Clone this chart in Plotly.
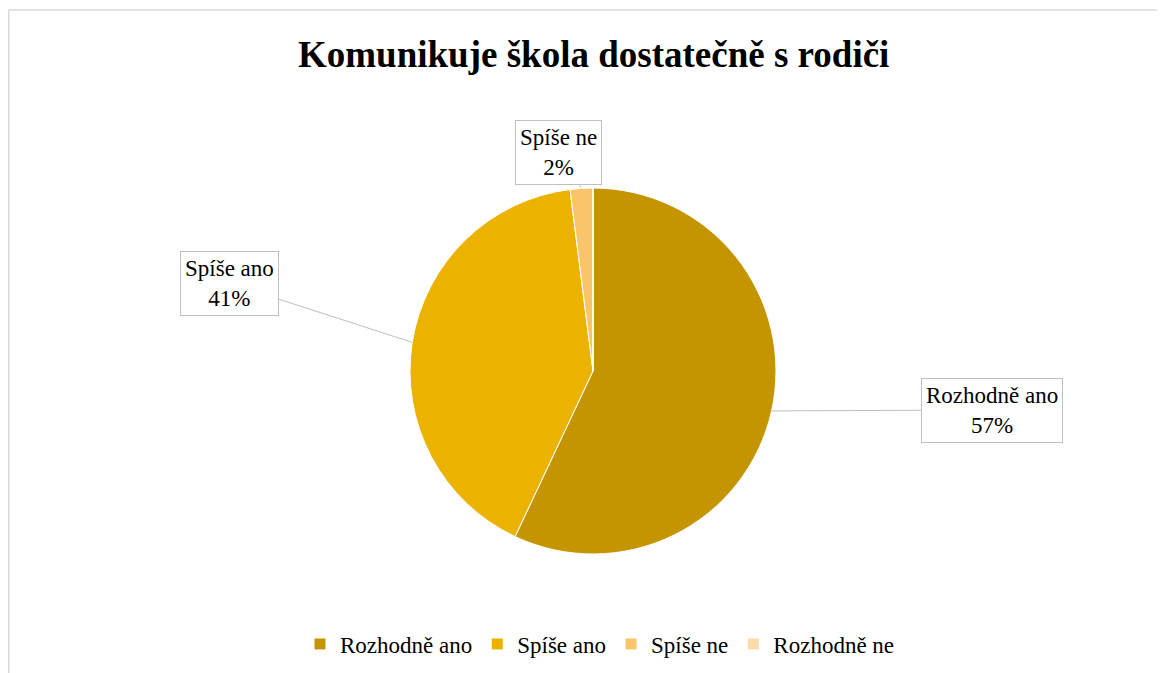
import math
import plotly.graph_objects as go

# ---- data ----
categories = ["Rozhodně ano", "Spíše ano", "Spíše ne", "Rozhodně ne"]
values = [57, 41, 2, 0]
colors = ["#C59500", "#EBB200", "#FAC56A", "#FDDBA8"]
title_text = "Komunikuje škola dostatečně s rodiči"

# ---- layout constants (window pixels; page body adds an 8px offset) ----
W, H = 1165, 673
OFF = 8
CX, CY, R = 593, 371, 183           # pie centre / radius in window px
label_boxes = [(992, 410), (229, 283), (558, 153), None]  # callout centres in window px
FONT = "Liberation Serif, Times New Roman, serif"


def fx(x):
    return (x - OFF) / W


def fy(y):
    return 1 - (y - OFF) / H


fig = go.Figure()
fig.add_trace(go.Pie(
    labels=categories,
    values=values,
    sort=False,
    direction="clockwise",
    rotation=0,
    marker=dict(colors=colors, line=dict(color="white", width=1)),
    textinfo="none",
    hoverinfo="label+percent",
    domain=dict(x=[fx(CX - R), fx(CX + R)],
                y=[fy(CY + R), fy(CY - R)]),
    showlegend=True,
))

# callout annotations computed from slice angles
total = sum(values)
cum = 0
annotations = []
for cat, v, box in zip(categories, values, label_boxes):
    if v > 0 and box is not None:
        theta = 2 * math.pi * (cum + v / 2) / total
        tx = CX + R * math.sin(theta)
        ty = CY - R * math.cos(theta)
        pct = round(100 * v / total)
        annotations.append(dict(
            x=fx(tx), y=fy(ty), xref="paper", yref="paper",
            text=f"{cat}<br>{pct}%",
            showarrow=True, arrowhead=0, arrowwidth=1, arrowcolor="#bfbfbf",
            ax=box[0] - tx, ay=box[1] - ty,
            font=dict(family=FONT, size=23, color="black"),
            bgcolor="white", bordercolor="#bfbfbf", borderwidth=1, borderpad=4,
            align="center",
        ))
    cum += v

annotations.append(dict(
    x=fx(593), y=fy(55), xref="paper", yref="paper",
    xanchor="center", yanchor="middle", showarrow=False,
    text=f"<b>{title_text}</b>",
    font=dict(family=FONT, size=37, color="black"),
))

fig.update_layout(
    width=W, height=H,
    margin=dict(l=0, r=0, t=0, b=0),
    paper_bgcolor="white", plot_bgcolor="white",
    annotations=annotations,
    legend=dict(orientation="h", x=fx(600), xanchor="center",
                y=fy(644), yanchor="middle",
                font=dict(family=FONT, size=23, color="black"),
                traceorder="normal", itemwidth=30),
    shapes=[
        dict(type="line", xref="paper", yref="paper",
             x0=fx(8.75), y0=fy(10), x1=1, y1=fy(10),
             line=dict(color="#d9d9d9", width=1.5)),
        dict(type="line", xref="paper", yref="paper",
             x0=fx(8.75), y0=fy(10), x1=fx(8.75), y1=0,
             line=dict(color="#d9d9d9", width=1.5)),
    ],
)

fig.write_html("out.html")
